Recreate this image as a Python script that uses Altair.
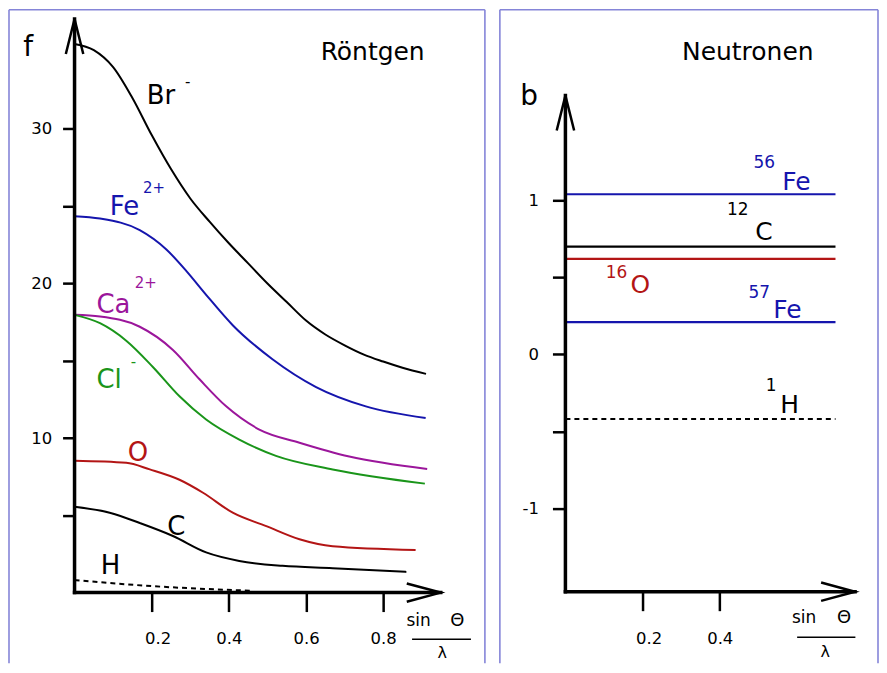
import altair as alt
import pandas as pd

FONT = "DejaVu Sans"
BLUE = "#1515ad"
PURPLE = "#9b169b"
GREEN = "#1a951a"
RED = "#b31515"
BLACK = "#000000"
BOX = "#8585d8"

# ---------------- Left panel: X-ray form factors f(sinθ/λ) ----------------
br_x = [0, 0.05, 0.10, 0.15, 0.20, 0.25, 0.30, 0.35, 0.40, 0.45, 0.50, 0.55, 0.60, 0.65, 0.70, 0.75, 0.80, 0.85, 0.911]
br_y = [35.5, 35.1, 34.0, 32.0, 29.6, 27.4, 25.5, 24.0, 22.6, 21.3, 20.0, 18.8, 17.6, 16.7, 16.0, 15.4, 14.95, 14.55, 14.15]
fe_x = [0, 0.066, 0.169, 0.238, 0.29, 0.34, 0.41, 0.513, 0.626, 0.755, 0.91]
fe_y = [24.35, 24.2, 23.45, 22.2, 20.8, 19.3, 17.3, 15.1, 13.3, 12.05, 11.3]
ca_x = [0, 0.066, 0.169, 0.255, 0.324, 0.393, 0.479, 0.583, 0.712, 0.914]
ca_y = [17.97, 17.86, 17.2, 15.7, 13.8, 12.05, 10.55, 9.7, 8.8, 8.0]
cl_x = [0, 0.066, 0.134, 0.203, 0.272, 0.341, 0.427, 0.522, 0.669, 0.908]
cl_y = [17.97, 17.43, 16.3, 14.6, 12.7, 11.2, 9.9, 8.85, 7.97, 7.05]
o_x = [0, 0.134, 0.195, 0.272, 0.333, 0.41, 0.497, 0.583, 0.669, 0.884]
o_y = [8.53, 8.4, 7.97, 7.3, 6.46, 5.17, 4.3, 3.45, 3.0, 2.76]
c_x = [0, 0.091, 0.169, 0.255, 0.341, 0.427, 0.539, 0.669, 0.86]
c_y = [5.56, 5.17, 4.5, 3.66, 2.6, 2.05, 1.73, 1.58, 1.34]
h_x = [0, 0.2, 0.46]
h_y = [0.81, 0.42, 0.12]

curve_names = ["Br-", "Fe2+", "Ca2+", "Cl-", "O", "C"]
curve_colors = [BLACK, BLUE, PURPLE, GREEN, RED, BLACK]
curve_xs = [br_x, fe_x, ca_x, cl_x, o_x, c_x]
curve_ys = [br_y, fe_y, ca_y, cl_y, o_y, c_y]

left_xticks = [0.2, 0.4, 0.6, 0.8]
left_yticks = [5, 10, 15, 20, 25, 30]

# ---------------- Right panel: neutron scattering lengths b ----------------
iso_names = ["56Fe", "12C", "16O", "57Fe", "1H"]
iso_b = [1.04, 0.70, 0.62, 0.21, -0.42]
iso_colors = [BLUE, BLACK, RED, BLUE, BLACK]
iso_dash = [False, False, False, False, True]
iso_xend = 0.70

right_xticks = [0.2, 0.4]
right_yticks = [-1, -0.5, 0, 0.5, 1]

# label texts (data coordinates)
L_main_t = ["Br", "Fe", "Ca", "Cl"]
L_main_x = [0.1872, 0.0915, 0.0569, 0.0569]
L_main_y = [31.58, 24.42, 18.11, 13.23]
L_main_c = [BLACK, BLUE, PURPLE, GREEN]

L_sup_t = ["-", "2+", "2+", "-"]
L_sup_x = [0.2865, 0.1774, 0.1559, 0.1456]
L_sup_y = [33.02, 26.16, 20.01, 14.95]
L_sup_c = [BLACK, BLUE, PURPLE, GREEN]

L_cen_t = ["O", "C", "H"]
L_cen_x = [0.1645, 0.2638, 0.0934]
L_cen_y = [8.49, 3.757, 1.175]
L_cen_c = [RED, BLACK, BLACK]

R_main_t = ["Fe", "C", "O", "Fe", "H"]
R_main_x = [0.5623, 0.4921, 0.1689, 0.5387, 0.5568]
R_main_y = [1.0655, 0.7414, 0.3979, 0.2359, -0.3798]
R_main_c = [BLUE, BLACK, RED, BLUE, BLACK]

R_sup_t = ["56", "12", "16", "57", "1"]
R_sup_x = [0.5153, 0.4469, 0.1327, 0.5025, 0.5335]
R_sup_y = [1.2405, 0.9358, 0.5308, 0.4012, -0.2048]
R_sup_c = [BLUE, BLACK, RED, BLUE, BLACK]

# scale domains (plot area = framed box)
L_XDOM = [-0.1699, 1.0636]
L_YDOM = [-4.571, 37.71]
R_XDOM = [-0.1699, 0.8102]
R_YDOM = [-2.0065, 2.2385]


def factories(xdom, ydom, ax_x, ax_y):
    sx = alt.Scale(domain=xdom, nice=False, zero=False)
    sy = alt.Scale(domain=ydom, nice=False, zero=False)
    X = lambda f: alt.X(f, type="quantitative", scale=sx, axis=ax_x)
    Y = lambda f: alt.Y(f, type="quantitative", scale=sy, axis=ax_y)
    return X, Y


def text_layer(X, Y, t, x, y, c, fs, align, baseline):
    df = pd.DataFrame({"x": x, "y": y, "t": t, "c": c, "fs": [fs] * len(t)})
    return alt.Chart(df).mark_text(align=align, baseline=baseline, font=FONT).encode(
        x=X("x"), y=Y("y"), text="t:N",
        color=alt.Color("c:N", scale=None),
        size=alt.Size("fs:Q", scale=None),
    )


def frame_layer(X, Y, xdom, ydom):
    df = pd.DataFrame({"x": [xdom[0], xdom[0], xdom[1]],
                       "x2": [xdom[0], xdom[1], xdom[1]],
                       "y": [ydom[0], ydom[1], ydom[0]],
                       "y2": [ydom[1], ydom[1], ydom[1]]})
    return alt.Chart(df).mark_rule(strokeWidth=1.6, color=BOX).encode(
        x=X("x"), y=Y("y"), x2="x2", y2="y2")


def axis_layers(X, Y, xtip, ytip, y0):
    rules = pd.DataFrame({"x": [0, 0], "y": [y0, y0], "x2": [0, xtip], "y2": [ytip, y0]})
    r = alt.Chart(rules).mark_rule(strokeWidth=3.5, color="black", strokeCap="square").encode(
        x=X("x"), y=Y("y"), x2="x2", y2="y2")
    up = alt.Chart(pd.DataFrame({"x": [0], "y": [ytip]})).mark_point(
        shape="M -0.25 1 L 0 0 L 0.25 1", size=4900, filled=False,
        stroke="black", strokeWidth=2.5, opacity=1).encode(x=X("x"), y=Y("y"))
    right = alt.Chart(pd.DataFrame({"x": [xtip], "y": [y0]})).mark_point(
        shape="M -1 -0.27 L 0 0 L -1 0.27", size=4624, filled=False,
        stroke="black", strokeWidth=2.5, opacity=1).encode(x=X("x"), y=Y("y"))
    return [r, up, right]


def fraction_layers(X, Y, sx, thx, by, x1, x2, ly, lamx, lamy):
    a = text_layer(X, Y, ["sin"], [sx], [by], [BLACK], 17, "left", "alphabetic")
    b = text_layer(X, Y, ["Θ"], [thx], [by], [BLACK], 18, "center", "alphabetic")
    c = text_layer(X, Y, ["λ"], [lamx], [lamy], [BLACK], 16, "center", "alphabetic")
    bar = alt.Chart(pd.DataFrame({"x": [x1], "x2": [x2], "y": [ly]})).mark_rule(
        strokeWidth=1.5, color="black").encode(x=X("x"), x2="x2", y=Y("y"))
    return [a, b, c, bar]


offset02 = {"condition": {"test": "abs(datum.value - 0.2) < 0.01", "value": 6}, "value": 0}
AX_COMMON = dict(domain=False, grid=False, tickWidth=2.5, tickColor="black",
                 labelFont=FONT, labelFontSize=16.5, labelColor="#000000", title=None)

# ---------------- build left panel ----------------
axL_x = alt.Axis(values=left_xticks, orient="bottom", offset=-70.8, tickSize=19,
                 labelPadding=19, labelOffset=offset02, labelFlush=False,
                 labelOverlap=False, **AX_COMMON)
axL_y = alt.Axis(values=left_yticks, orient="left", offset=-65.7, tickSize=12,
                 labelPadding=11, labelExpr="datum.value % 10 == 0 ? datum.label : ''",
                 **AX_COMMON)
XL, YL = factories(L_XDOM, L_YDOM, axL_x, axL_y)

rows = []
for n, xs, ys in zip(curve_names, curve_xs, curve_ys):
    for xv, yv in zip(xs, ys):
        rows.append({"s": n, "x": xv, "y": yv})
curves = alt.Chart(pd.DataFrame(rows)).mark_line(strokeWidth=2, interpolate="monotone").encode(
    x=XL("x"), y=YL("y"),
    color=alt.Color("s:N", scale=alt.Scale(domain=curve_names, range=curve_colors), legend=None),
)
hline = alt.Chart(pd.DataFrame({"x": h_x, "y": h_y})).mark_line(
    strokeWidth=2, strokeDash=[5, 4], color="black", interpolate="monotone").encode(x=XL("x"), y=YL("y"))

left_layers = [frame_layer(XL, YL, L_XDOM, L_YDOM), curves, hline] + axis_layers(XL, YL, 0.949, 37.11, 0) + [
    text_layer(XL, YL, L_main_t, L_main_x, L_main_y, L_main_c, 26, "left", "alphabetic"),
    text_layer(XL, YL, L_sup_t, L_sup_x, L_sup_y, L_sup_c, 15, "left", "middle"),
    text_layer(XL, YL, L_cen_t, L_cen_x, L_cen_y, L_cen_c, 26, "center", "alphabetic"),
    text_layer(XL, YL, ["f"], [-0.12], [34.7], [BLACK], 28, "center", "alphabetic"),
    text_layer(XL, YL, ["Röntgen"], [0.7727], [34.47], [BLACK], 25, "center", "alphabetic"),
] + fraction_layers(XL, YL, 0.8601, 0.992, -2.182, 0.8748, 1.0274, -3.021, 0.9532, -4.248)

left = alt.layer(*left_layers).properties(width=477, height=655)

# ---------------- build right panel ----------------
axR_x = alt.Axis(values=right_xticks, orient="bottom", offset=-71.7, tickSize=19,
                 labelPadding=20, labelOffset=offset02, labelFlush=False,
                 labelOverlap=False, **AX_COMMON)
axR_y = alt.Axis(values=right_yticks, orient="left", offset=-65.7, tickSize=13,
                 labelPadding=14, labelExpr="datum.value % 1 == 0 ? '' + datum.value : ''",
                 **AX_COMMON)
XR, YR = factories(R_XDOM, R_YDOM, axR_x, axR_y)

iso_df = pd.DataFrame({"iso": iso_names, "b": iso_b, "c": iso_colors,
                       "x0": [0] * len(iso_names), "x1": [iso_xend] * len(iso_names),
                       "dash": iso_dash})
iso_solid = alt.Chart(iso_df[~iso_df["dash"]]).mark_rule(strokeWidth=2.2).encode(
    x=XR("x0"), x2="x1", y=YR("b"), color=alt.Color("c:N", scale=None))
iso_dashed = alt.Chart(iso_df[iso_df["dash"]]).mark_rule(strokeWidth=2, strokeDash=[5, 4]).encode(
    x=XR("x0"), x2="x1", y=YR("b"), color=alt.Color("c:N", scale=None))

right_layers = [frame_layer(XR, YR, R_XDOM, R_YDOM), iso_solid, iso_dashed] + axis_layers(XR, YR, 0.7507, 1.681, -1.5418) + [
    text_layer(XR, YR, R_main_t, R_main_x, R_main_y, R_main_c, 25, "left", "alphabetic"),
    text_layer(XR, YR, R_sup_t, R_sup_x, R_sup_y, R_sup_c, 17, "center", "middle"),
    text_layer(XR, YR, ["b"], [-0.0941], [1.6228], [BLACK], 28, "center", "alphabetic"),
    text_layer(XR, YR, ["Neutronen"], [0.4727], [1.9125], [BLACK], 25, "center", "alphabetic"),
] + fraction_layers(XR, YR, 0.587, 0.7223, -1.7473, 0.6006, 0.7516, -1.838, 0.6731, -1.9676)

right = alt.layer(*right_layers).properties(width=379, height=655)

chart = alt.hconcat(left, right, spacing=13).properties(
    padding={"left": 0, "top": 0, "right": 0, "bottom": 0},
    background="white",
).configure_view(strokeWidth=0)

chart.save("out.html", embed_options={"renderer": "svg", "actions": False})
